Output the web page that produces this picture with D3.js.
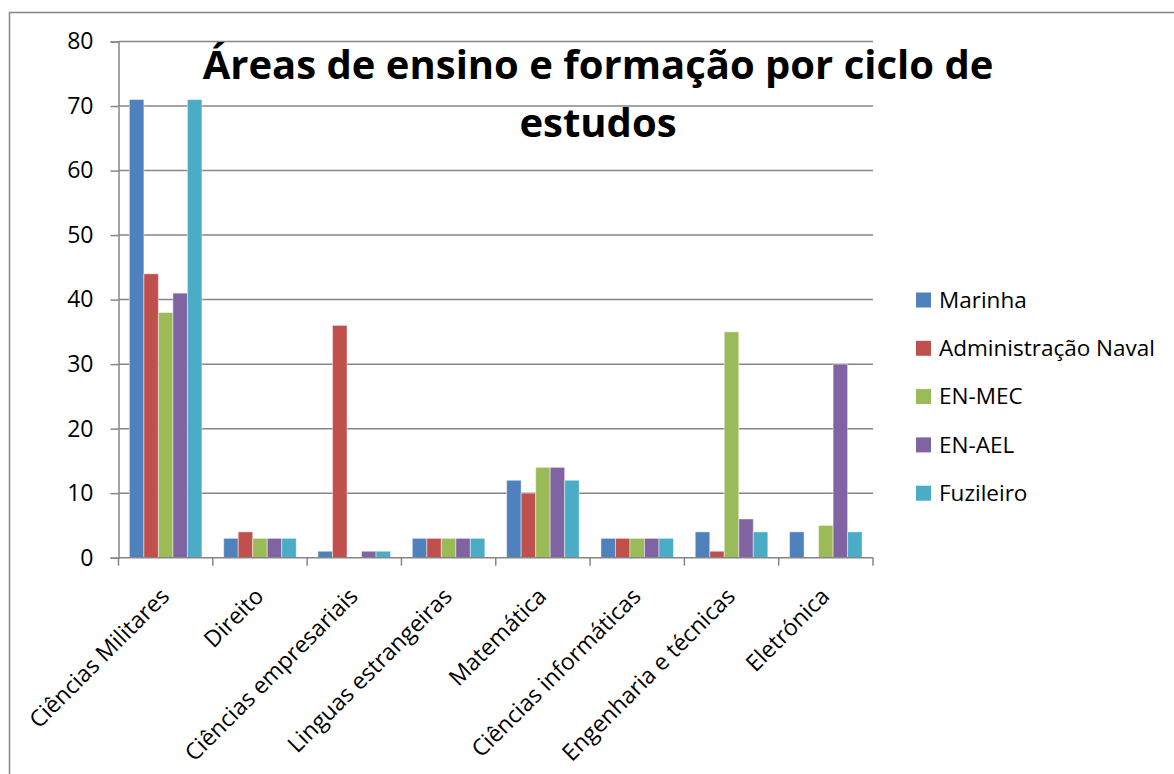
<!DOCTYPE html>
<html>
<head>
<meta charset="utf-8">
<script src="https://cdn.jsdelivr.net/npm/d3@7"></script>
<style>
  body { margin: 0; background: #fff; }
  svg { display: block; font-family: "Open Sans", "Noto Sans", sans-serif; }
</style>
</head>
<body>
<svg id="chart" width="1174" height="774"></svg>
<script>
// ---- Data ----
const categories = [
  "Ciências Militares", "Direito", "Ciências empresariais", "Linguas estrangeiras",
  "Matemática", "Ciências informáticas", "Engenharia e técnicas", "Eletrónica"
];
const seriesNames = ["Marinha", "Administração Naval", "EN-MEC", "EN-AEL", "Fuzileiro"];
const marinha   = [71, 3, 1, 3, 12, 3, 4, 4];
const admNaval  = [44, 4, 36, 3, 10, 3, 1, 0];
const enMec     = [38, 3, 0, 3, 14, 3, 35, 5];
const enAel     = [41, 3, 1, 3, 14, 3, 6, 30];
const fuzileiro = [71, 3, 1, 3, 12, 3, 4, 4];
const yTicks = [0, 10, 20, 30, 40, 50, 60, 70, 80];
const colors = ["#4F81BD", "#C0504D", "#9BBB59", "#8064A2", "#4BACC6"];
const titleLines = ["Áreas de ensino e formação por ciclo de", "estudos"];

const seriesValues = [marinha, admNaval, enMec, enAel, fuzileiro];
const rows = categories.map((c, i) => ({
  cat: c,
  vals: seriesNames.map((s, j) => ({ key: s, value: seriesValues[j][i], color: colors[j] }))
}));

const svg = d3.select("#chart");
const grey = "#868686";

// outer chart border (runs off the right and bottom edges)
svg.append("rect")
  .attr("x", 9.5).attr("y", 12.5)
  .attr("width", 1200).attr("height", 800)
  .attr("fill", "none").attr("stroke", grey).attr("stroke-width", 1.5);

// ---- Scales ----
const plot = { left: 118.5, right: 873, top: 41.5, bottom: 557.7 };

const x0 = d3.scaleBand().domain(categories).range([plot.left, plot.right]).padding(0);
const barW = x0.bandwidth() / 6.5;   // Excel gap width 150%
const x1 = d3.scaleBand().domain(seriesNames)
  .range([barW * 0.75, x0.bandwidth() - barW * 0.75]).padding(0);
const y = d3.scaleLinear().domain([0, 80]).range([plot.bottom, plot.top]);

// ---- Gridlines ----
svg.append("g").selectAll("line")
  .data(yTicks.filter(d => d > 0))
  .join("line")
  .attr("x1", plot.left).attr("x2", plot.right)
  .attr("y1", d => y(d)).attr("y2", d => y(d))
  .attr("stroke", grey).attr("stroke-width", 1.5);

// ---- Bars ----
svg.append("g").selectAll("g")
  .data(rows)
  .join("g")
  .attr("transform", d => `translate(${x0(d.cat)},0)`)
  .selectAll("rect")
  .data(d => d.vals.filter(v => v.value > 0))
  .join("rect")
  .attr("x", d => x1(d.key))
  .attr("width", x1.bandwidth())
  .attr("y", d => y(d.value))
  .attr("height", d => y(0) - y(d.value))
  .attr("fill", d => d.color)
  .attr("stroke", "#ffffff").attr("stroke-opacity", 0.45).attr("stroke-width", 1);

// ---- Y axis ----
const yAxis = svg.append("g")
  .attr("transform", `translate(${plot.left},0)`)
  .call(d3.axisLeft(y).tickValues(yTicks).tickSize(8).tickPadding(17));
yAxis.select(".domain").attr("stroke", grey).attr("stroke-width", 1.5);
yAxis.selectAll(".tick line").attr("stroke", grey).attr("stroke-width", 1.5);
yAxis.selectAll(".tick text")
  .attr("fill", "#000").style("font-size", "23px").style("font-family", "Open Sans");

// ---- X axis ----
const xAxis = svg.append("g")
  .attr("transform", `translate(0,${plot.bottom})`);
xAxis.append("line")
  .attr("x1", plot.left).attr("x2", plot.right)
  .attr("stroke", grey).attr("stroke-width", 1.5);
xAxis.selectAll("line.tk")
  .data(d3.range(categories.length + 1))
  .join("line")
  .attr("class", "tk")
  .attr("x1", i => plot.left + i * x0.step()).attr("x2", i => plot.left + i * x0.step())
  .attr("y1", 0).attr("y2", 8)
  .attr("stroke", grey).attr("stroke-width", 1.5);
xAxis.selectAll("text")
  .data(categories)
  .join("text")
  .attr("transform", d => `translate(${x0(d) + x0.bandwidth() / 2 + 5},40) rotate(-45)`)
  .attr("text-anchor", "end")
  .style("font-size", "23px")
  .attr("fill", "#000")
  .text(d => d);

// ---- Title ----
const title = svg.append("g").attr("font-weight", "bold").attr("fill", "#000");
title.selectAll("text")
  .data(titleLines)
  .join("text")
  .attr("x", 598)
  .attr("y", (d, i) => 79 + i * 58)
  .attr("text-anchor", "middle")
  .style("font-size", "40px")
  .text(d => d);

// ---- Legend ----
const legend = svg.append("g").attr("transform", "translate(916,300)");
const item = legend.selectAll("g")
  .data(seriesNames)
  .join("g")
  .attr("transform", (d, i) => `translate(0,${i * 48.3})`);
item.append("rect")
  .attr("x", 0).attr("y", -7.5).attr("width", 15).attr("height", 15)
  .attr("fill", (d, i) => colors[i]);
item.append("text")
  .attr("x", 23).attr("dy", "0.35em")
  .style("font-size", "22.5px")
  .attr("fill", "#000")
  .text(d => d);
</script>
</body>
</html>
